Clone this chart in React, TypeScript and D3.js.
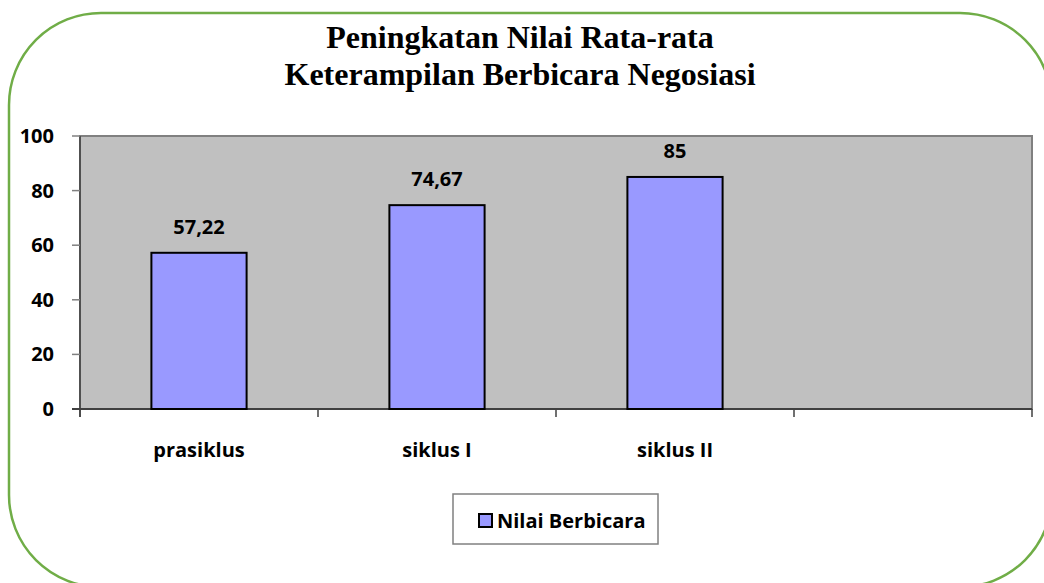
import React, { useEffect, useRef } from 'react';
import * as d3 from 'd3';

const categories = ['prasiklus', 'siklus I', 'siklus II', ''];
const values = [57.22, 74.67, 85, null];
const valueLabels = ['57,22', '74,67', '85', ''];
const yTicks = [0, 20, 40, 60, 80, 100];
const seriesName = 'Nilai Berbicara';
const titleLines = ['Peningkatan Nilai Rata-rata', 'Keterampilan Berbicara Negosiasi'];

const W = 1044;
const H = 583;
const labelFont = "'Open Sans', 'Noto Sans', sans-serif";

const App: React.FC = () => {
    const ref = useRef<SVGSVGElement | null>(null);

    useEffect(() => {
        if (!ref.current) return;
        const svg = d3.select(ref.current);
        svg.selectAll('*').remove();

        // outer rounded frame
        svg.append('rect')
            .attr('x', 9).attr('y', 13)
            .attr('width', 1043).attr('height', 574)
            .attr('rx', 92).attr('ry', 92)
            .attr('fill', 'white')
            .attr('stroke', '#70AD47')
            .attr('stroke-width', 2.5);

        const title = svg.append('text')
            .attr('text-anchor', 'middle')
            .style('font-family', "'Liberation Serif', 'Times New Roman', serif")
            .style('font-weight', 'bold')
            .style('font-size', '32px');
        titleLines.forEach((t, i) => {
            title.append('tspan').attr('x', 520).attr('y', 48 + i * 37).text(t);
        });

        const left = 80, right = 1032, top = 136, bottom = 409;

        const x = d3.scaleBand<number>()
            .domain(d3.range(categories.length))
            .range([left, right]);
        const y = d3.scaleLinear().domain([0, 100]).range([bottom, top]);

        svg.append('rect')
            .attr('x', left).attr('y', top)
            .attr('width', right - left).attr('height', bottom - top)
            .attr('fill', '#C0C0C0')
            .attr('stroke', '#808080')
            .attr('stroke-width', 2);

        const txt = (sel: d3.Selection<SVGTextElement, unknown, null, undefined>) =>
            sel.style('font-family', labelFont)
                .style('font-weight', 'bold')
                .style('font-size', '20px')
                .attr('fill', 'black');

        // y axis
        const yAxis = svg.append('g');
        yAxis.append('line')
            .attr('x1', left).attr('x2', left)
            .attr('y1', top).attr('y2', bottom + 8)
            .attr('stroke', '#404040').attr('stroke-width', 1.5);
        yTicks.forEach(t => {
            yAxis.append('line')
                .attr('x1', left - 8).attr('x2', left)
                .attr('y1', y(t)).attr('y2', y(t))
                .attr('stroke', '#808080').attr('stroke-width', 1.5);
            txt(yAxis.append('text')
                .attr('x', 54).attr('y', y(t) + 7)
                .attr('text-anchor', 'end'))
                .text(t);
        });

        // x axis
        svg.append('line')
            .attr('x1', left - 8).attr('x2', right)
            .attr('y1', bottom).attr('y2', bottom)
            .attr('stroke', '#404040').attr('stroke-width', 2);
        const xEdges = categories.map((_, i) => x(i) as number).concat([right]);
        xEdges.forEach(e => {
            svg.append('line')
                .attr('x1', e).attr('x2', e)
                .attr('y1', bottom).attr('y2', bottom + 8)
                .attr('stroke', '#404040').attr('stroke-width', 1.5);
        });
        categories.forEach((c, i) => {
            txt(svg.append('text')
                .attr('x', (x(i) as number) + x.bandwidth() / 2)
                .attr('y', 457)
                .attr('text-anchor', 'middle'))
                .text(c);
        });

        // bars
        const bw = x.bandwidth() * 0.4;
        values.forEach((v, i) => {
            if (v == null) return;
            const cx = (x(i) as number) + x.bandwidth() / 2;
            svg.append('rect')
                .attr('x', cx - bw / 2).attr('y', y(v))
                .attr('width', bw).attr('height', bottom - y(v))
                .attr('fill', '#9999FF')
                .attr('stroke', 'black')
                .attr('stroke-width', 2);
            txt(svg.append('text')
                .attr('x', cx).attr('y', y(v) - 19)
                .attr('text-anchor', 'middle'))
                .text(valueLabels[i]);
        });

        // legend
        const lg = svg.append('g');
        lg.append('rect')
            .attr('x', 453).attr('y', 494)
            .attr('width', 205).attr('height', 50)
            .attr('fill', 'white')
            .attr('stroke', '#808080').attr('stroke-width', 1.5);
        lg.append('rect')
            .attr('x', 479).attr('y', 514)
            .attr('width', 13).attr('height', 13)
            .attr('fill', '#9999FF')
            .attr('stroke', 'black').attr('stroke-width', 2);
        txt(lg.append('text')
            .attr('x', 497).attr('y', 528))
            .text(seriesName);
    }, []);

    return (
        <svg ref={ref} width={W} height={H}
            style={{ position: 'absolute', left: 0, top: 0, display: 'block' }} />
    );
};

export default App;
